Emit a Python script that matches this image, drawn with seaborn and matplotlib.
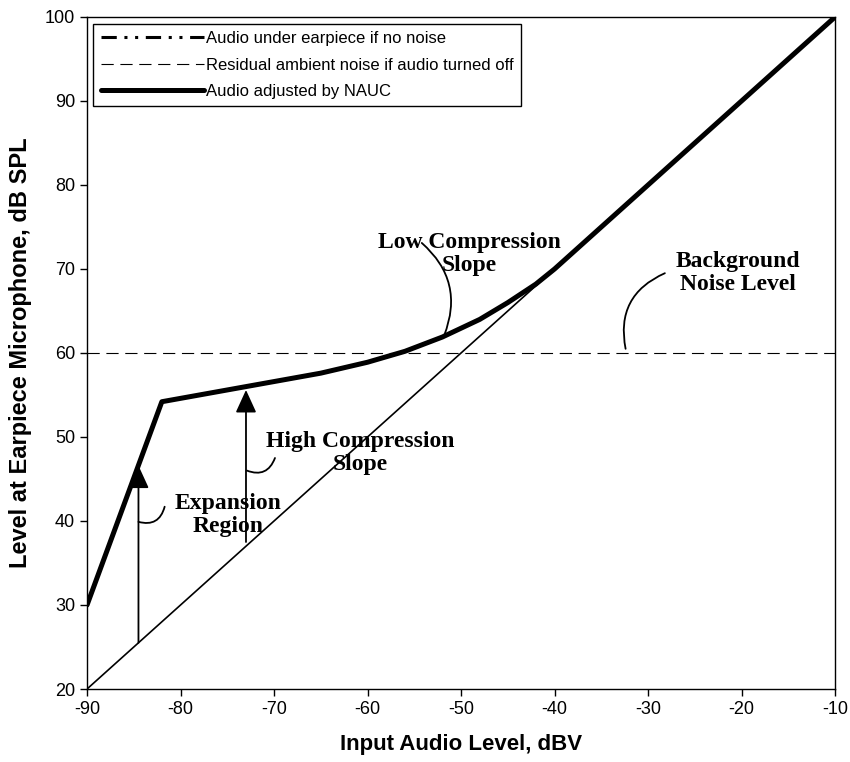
#!/usr/bin/env python3
"""Noise adaptive gain curve: level at earpiece mic vs input audio level
"""

import matplotlib
matplotlib.use("Agg")
import matplotlib.pyplot as plt
from matplotlib.lines import Line2D
import seaborn as sns

# audio under earpiece with no noise (unity line)
input_level = [-90, -10]
no_noise_level = [20, 100]

# residual ambient noise
noise_level = [60, 60]

# audio adjusted by NAUC
nauc_input = [-90, -82, -73, -65, -60, -56, -52, -48, -45, -42, -40, -10]
nauc_level = [30, 54.2, 56, 57.6, 58.9, 60.2, 61.9, 64, 66, 68.2, 70, 100]

# gain arrows (x, from, to)
arrow_x = [-84.5, -73]
arrow_from = [25.5, 37.5]
arrow_to = [46.6, 55.6]

legend_labels = ["Audio under earpiece if no noise",
                 "Residual ambient noise if audio turned off",
                 "Audio adjusted by NAUC"]


def main():
    sns.set_style("ticks")
    plt.rcParams["font.family"] = ["Liberation Sans", "DejaVu Sans"]
    plt.rcParams["axes.unicode_minus"] = False
    for key in ["text.color", "axes.labelcolor", "xtick.color", "ytick.color"]:
        plt.rcParams[key] = "black"

    fig = plt.figure(figsize=(8.5, 7.62), dpi=100)
    ax = fig.add_axes([0.1024, 0.0958, 0.88, 0.8819])

    sns.lineplot(x=input_level, y=no_noise_level, color="black", lw=1.2, ax=ax)
    sns.lineplot(x=input_level, y=noise_level, color="black", lw=0.8,
                 dashes=False, ax=ax).lines[-1].set_dashes((11, 6))
    sns.lineplot(x=nauc_input, y=nauc_level, color="black", lw=3.6,
                 estimator=None, ax=ax)

    for x, y0, y1 in zip(arrow_x, arrow_from, arrow_to):
        ax.annotate("", xy=(x, y1), xytext=(x, y0),
                    arrowprops=dict(arrowstyle="-|>,head_length=0.7,head_width=0.32",
                                    mutation_scale=20, color="black", lw=1.3,
                                    shrinkA=0, shrinkB=0))

    serif = dict(family=["Liberation Serif", "DejaVu Serif"], weight="bold",
                 fontsize=17, ha="center", va="center", linespacing=1.1,
                 color="black")
    ax.text(-49.1, 71.8, "Low Compression\nSlope", **serif)
    ax.text(-20.4, 69.5, "Background\nNoise Level", **serif)
    ax.text(-74.9, 40.7, "Expansion\nRegion", **serif)
    ax.text(-60.8, 48.1, "High Compression\nSlope", **serif)

    leaders = [((-54.2, 73.1), (-51.8, 62.1), -0.35),
               ((-28.2, 69.5), (-32.4, 60.5), 0.4),
               ((-81.7, 41.7), (-84.5, 39.9), -0.5),
               ((-69.9, 47.5), (-72.9, 46.0), -0.5)]
    for start, end, rad in leaders:
        ax.annotate("", xy=end, xytext=start,
                    arrowprops=dict(arrowstyle="-", color="black", lw=1.3,
                                    connectionstyle=f"arc3,rad={rad}",
                                    shrinkA=0, shrinkB=0))

    handles = [Line2D([], [], color="black", lw=2.2, ls=(0, (5, 2.5, 1, 2.5, 1, 2.5))),
               Line2D([], [], color="black", lw=0.8, ls=(0, (11, 6))),
               Line2D([], [], color="black", lw=3.6)]
    leg = ax.legend(handles, legend_labels, loc="upper left",
                    bbox_to_anchor=(0.008, 0.99), borderaxespad=0,
                    fontsize=12, handlelength=6.2, handletextpad=0.15,
                    labelspacing=0.68, borderpad=0.45, fancybox=False,
                    framealpha=1, edgecolor="black")
    leg.get_frame().set_linewidth(1.0)

    ax.set_xlim(-90, -10)
    ax.set_ylim(20, 100)
    ax.set_xticks(range(-90, 0, 10))
    ax.set_yticks(range(20, 101, 10))
    ax.tick_params(labelsize=13, length=5, width=1, color="black",
                   labelcolor="black", top=False, right=False)
    for sp in ax.spines.values():
        sp.set_color("black")
        sp.set_linewidth(1.0)

    ax.set_xlabel("Input Audio Level, dBV", fontsize=16, weight="bold", labelpad=12)
    ax.set_ylabel("Level at Earpiece Microphone, dB SPL", fontsize=17,
                  weight="bold", labelpad=9)

    fig.savefig("out.png", dpi=100)


if __name__ == "__main__":
    main()
